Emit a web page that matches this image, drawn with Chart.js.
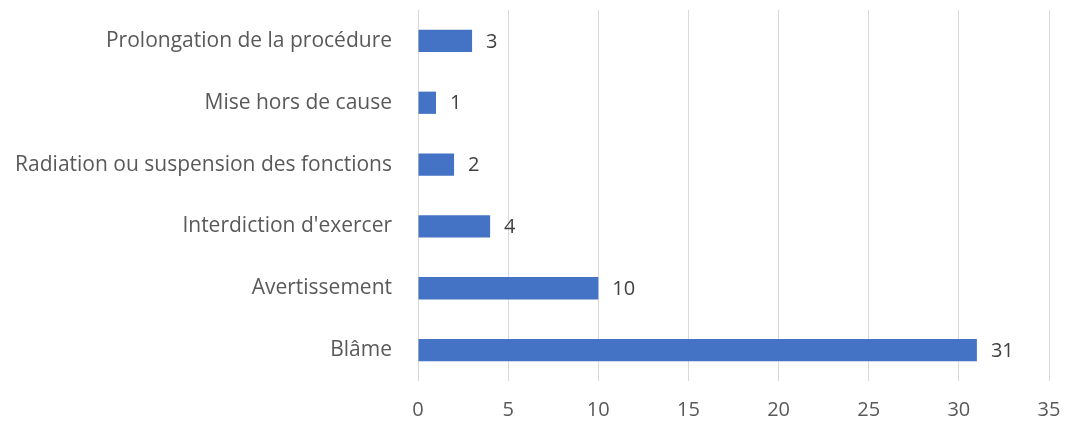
<!DOCTYPE html>
<html lang="fr">
<head>
    <meta charset="UTF-8">
    <title>Sanctions</title>
    <script src="https://cdn.jsdelivr.net/npm/chart.js"></script>
    <style>
        body {
            margin: 0;
            background-color: #fff;
        }
        .chart-box {
            width: 1067px;
            height: 426px;
        }
    </style>
</head>
<body>
<div class="chart-box">
    <canvas id="sanctionsChart"></canvas>
</div>
<script>
    // data, top to bottom
    const categories = ['Prolongation de la procédure', 'Mise hors de cause', 'Radiation ou suspension des fonctions', "Interdiction d'exercer", 'Avertissement', 'Blâme'];
    const counts = [3, 1, 2, 4, 10, 31];
    const xTicks = [0, 5, 10, 15, 20, 25, 30, 35];

    const fontFamily = "'Open Sans', 'Liberation Sans', sans-serif";

    // draws the value just right of each bar
    const valueLabels = {
        id: 'valueLabels',
        afterDatasetsDraw(chart) {
            const ctx = chart.ctx;
            const meta = chart.getDatasetMeta(0);
            ctx.save();
            ctx.font = '20px ' + fontFamily;
            ctx.fillStyle = '#404040';
            ctx.textAlign = 'left';
            ctx.textBaseline = 'middle';
            meta.data.forEach((bar, i) => {
                ctx.fillText(String(counts[i]), bar.x + 14, bar.y + 1);
            });
            ctx.restore();
        }
    };

    new Chart(document.getElementById('sanctionsChart'), {
        type: 'bar',
        data: {
            labels: categories,
            datasets: [{
                data: counts,
                backgroundColor: '#4472C4',
                borderWidth: 0,
                categoryPercentage: 1,
                barPercentage: 0.36
            }]
        },
        options: {
            indexAxis: 'y',
            responsive: true,
            maintainAspectRatio: false,
            animation: false,
            layout: {
                padding: { top: 10, right: 18, left: 0, bottom: 0 }
            },
            plugins: {
                legend: { display: false },
                tooltip: { enabled: false }
            },
            scales: {
                x: {
                    min: 0,
                    max: 35,
                    afterBuildTicks(axis) {
                        axis.ticks = xTicks.map(v => ({ value: v }));
                    },
                    afterFit(axis) {
                        axis.height = 45;
                        axis.paddingLeft = 0;
                        axis.paddingRight = 0;
                    },
                    grid: {
                        color: '#d9d9d9',
                        lineWidth: 1,
                        drawTicks: false
                    },
                    border: { display: false },
                    ticks: {
                        padding: 17,
                        color: '#595959',
                        font: { family: fontFamily, size: 20 }
                    }
                },
                y: {
                    afterFit(axis) {
                        axis.width = 418;
                        axis.paddingTop = 0;
                        axis.paddingBottom = 0;
                    },
                    grid: { display: false, drawTicks: false },
                    border: { display: false },
                    ticks: {
                        padding: 26,
                        color: '#595959',
                        font: { family: fontFamily, size: 21 }
                    }
                }
            }
        },
        plugins: [valueLabels]
    });
</script>
</body>
</html>
